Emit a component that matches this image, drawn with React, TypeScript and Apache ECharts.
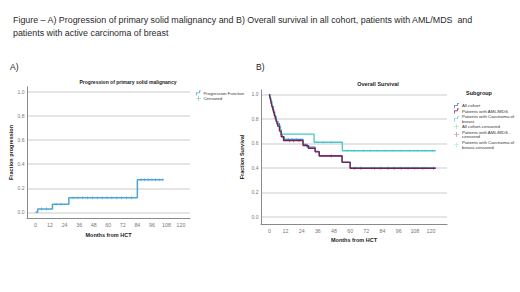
import React, { useEffect, useRef } from 'react';
import * as echarts from 'echarts';

// Panel A: cumulative incidence of progression
const progTimes = [0, 1.8, 14, 27.5, 84, 105.5];
const progValues = [0, 0.028, 0.067, 0.122, 0.27, 0.27];
const progCensorTimes = [5, 9, 17, 21, 31, 35, 39, 43, 47, 51, 55, 59, 63, 67, 71, 75, 79, 87, 90, 93, 96, 99, 102, 105];

// Panel B: overall survival
const allTimes = [0, 0.4, 0.8, 1.2, 1.6, 2.0, 2.5, 3.0, 3.5, 4.0, 4.6, 5.2, 6.0, 7.5, 8.5, 9.5, 11, 25, 28, 34, 37, 54, 60, 123.5];
const allValues = [1, 0.98, 0.96, 0.94, 0.92, 0.9, 0.88, 0.86, 0.84, 0.82, 0.8, 0.78, 0.76, 0.715, 0.676, 0.655, 0.632, 0.592, 0.57, 0.535, 0.5, 0.448, 0.4, 0.4];
const amlTimes = [0, 0.5, 1.0, 1.5, 2.0, 2.6, 3.2, 3.8, 4.4, 5.0, 5.6, 6.2, 7.5, 8.8, 10.5, 25, 29, 34, 37, 54, 60, 123.5];
const amlValues = [1, 0.975, 0.95, 0.925, 0.9, 0.875, 0.85, 0.825, 0.8, 0.78, 0.76, 0.74, 0.7, 0.654, 0.622, 0.582, 0.56, 0.53, 0.497, 0.446, 0.397, 0.397];
const breastTimes = [0, 0.6, 1.2, 2.0, 3.0, 4.0, 5.2, 6.5, 8.3, 33.2, 54.2, 123.5];
const breastValues = [1, 0.97, 0.94, 0.9, 0.86, 0.82, 0.78, 0.74, 0.676, 0.609, 0.54, 0.54];
const allCensorTimes = [14, 17, 20, 30, 45, 64, 68, 76, 82, 88, 92, 97, 101, 106, 110, 116, 122];
const amlCensorTimes = [15, 18, 22, 46, 63, 68, 78, 83, 88, 93, 98, 103, 108, 114, 122];
const breastCensorTimes = [40, 46, 58, 63, 70, 75, 80, 86, 92, 98, 104, 110, 116, 121];

// Tick labels
const monthTicks = [0, 12, 24, 36, 48, 60, 72, 84, 96, 108, 120];
const fractionTicks = [0, 0.2, 0.4, 0.6, 0.8, 1.0];

const FONT = '"Liberation Sans", Arial, sans-serif';

function stepAt(times: number[], values: number[], t: number) {
  let v = values[0];
  for (let i = 0; i < times.length; i++) if (times[i] <= t) v = values[i];
  return v;
}
const zip = (a: number[], b: number[]) => a.map((x, i) => [x, b[i]]);
const censorPts = (ct: number[], times: number[], values: number[]) => ct.map((t) => [t, stepAt(times, values, t)]);

const legendNames: Record<string, string> = {
  'Patients with Carcinoma of breast': 'Patients with Carcinoma of\nbreast',
  'Patients with AML/MDS - censored': 'Patients with AML/MDS -\ncensored',
  'Patients with Carcinoma of breast-censored': 'Patients with Carcinoma of\nbreast-censored',
};

const STEP_ICON = 'path://M0,10 L0,4 L6,4 L6,0 L10,0 L10,1.4 L7.4,1.4 L7.4,5.4 L1.4,5.4 L1.4,10 Z';
const PLUS_ICON = 'path://M4.4,0 H5.6 V4.4 H10 V5.6 H5.6 V10 H4.4 V5.6 H0 V4.4 H4.4 Z';

function xAxisCfg(gridIndex: number, min: number, max: number, nameGap: number) {
  return {
    gridIndex,
    type: 'value',
    min,
    max,
    name: 'Months from HCT',
    nameLocation: 'middle',
    nameGap,
    nameMoveOverlap: false,
    nameTextStyle: { fontSize: 5.5, fontWeight: 'bold', color: '#222', fontFamily: FONT },
    axisLine: { show: true, onZero: false, lineStyle: { color: '#8a8a8a', width: 1 } },
    axisTick: { show: false, customValues: monthTicks },
    axisLabel: { customValues: monthTicks, fontSize: 5.3, color: '#777', margin: 4, fontFamily: FONT },
    splitLine: { show: false },
  };
}
function yAxisCfg(gridIndex: number, min: number, max: number, name: string, nameGap: number) {
  return {
    gridIndex,
    type: 'value',
    min,
    max,
    name,
    nameLocation: 'middle',
    nameGap,
    nameMoveOverlap: false,
    nameTextStyle: { fontSize: 5.5, fontWeight: 'bold', color: '#222', fontFamily: FONT },
    axisLine: { show: true, onZero: false, lineStyle: { color: '#8a8a8a', width: 1 } },
    axisTick: { show: false, customValues: fractionTicks },
    axisLabel: { customValues: fractionTicks, fontSize: 5, color: '#777', margin: 2.5, fontFamily: FONT, formatter: (v: number) => v.toFixed(1) },
    splitLine: { show: true, lineStyle: { color: '#dcdcdc', width: 1.5 } },
  };
}

export default function App() {
  const ref = useRef<HTMLDivElement>(null);
  useEffect(() => {
    if (!ref.current) return;
    const chart = echarts.init(ref.current, null, { renderer: 'svg' });
    const progColor = '#4aa6d6';
    const allColor = '#4178b8';
    const amlColor = '#7a1f4f';
    const breastColor = '#47c8c8';
    chart.setOption({
      animation: false,
      backgroundColor: '#fff',
      textStyle: { fontFamily: FONT },
      grid: [
        { left: 27, top: 86.7, width: 163, height: 131.6 },
        { left: 261, top: 90, width: 186, height: 134 },
      ],
      xAxis: [xAxisCfg(0, -7, 127.4, 14), xAxisCfg(1, -6.2, 131.9, 13)],
      yAxis: [
        yAxisCfg(0, -0.05, 1.045, 'Fraction progression', 13),
        yAxisCfg(1, -0.057, 1.035, 'Fraction Survival', 16),
      ],
      legend: [
        {
          orient: 'vertical',
          left: 191,
          top: 85.6,
          itemWidth: 6,
          itemHeight: 5,
          itemGap: 0.4,
          textStyle: { fontSize: 4.3, color: '#333', fontFamily: FONT, padding: [0, 0, 0, -3] },
          data: [
            { name: 'Progression Function', icon: STEP_ICON },
            { name: 'Censored', icon: PLUS_ICON },
          ],
        },
        {
          orient: 'vertical',
          left: 449,
          top: 98.2,
          itemWidth: 7,
          itemHeight: 5,
          itemGap: 0.4,
          textStyle: { fontSize: 4.4, lineHeight: 4.9, color: '#333', fontFamily: FONT, padding: [0, 0, 0, -3] },
          formatter: (n: string) => legendNames[n] || n,
          data: [
            { name: 'All cohort', icon: STEP_ICON },
            { name: 'Patients with AML/MDS', icon: STEP_ICON },
            { name: 'Patients with Carcinoma of breast', icon: STEP_ICON },
            { name: 'All cohort-censored', icon: PLUS_ICON },
            { name: 'Patients with AML/MDS - censored', icon: PLUS_ICON },
            { name: 'Patients with Carcinoma of breast-censored', icon: PLUS_ICON },
          ],
        },
      ],
      graphic: [
        {
          type: 'text', left: 13, top: 13,
          style: {
            text: 'Figure – A) Progression of primary solid malignancy and B) Overall survival in all cohort, patients with AML/MDS  and\npatients with active carcinoma of breast',
            fontSize: 8.9, lineHeight: 13, fill: '#2a2a2a', fontFamily: FONT,
          },
        },
        { type: 'text', left: 10, top: 62, style: { text: 'A)', fontSize: 8.5, fill: '#222', fontFamily: FONT } },
        { type: 'text', left: 256, top: 62, style: { text: 'B)', fontSize: 8.5, fill: '#222', fontFamily: FONT } },
        { type: 'text', x: 128, y: 82, style: { text: 'Progression of primary solid malignancy', fontSize: 5, fontWeight: 'bold', fill: '#222', align: 'center', verticalAlign: 'middle', fontFamily: FONT } },
        { type: 'text', x: 378, y: 84, style: { text: 'Overall Survival', fontSize: 5.5, fontWeight: 'bold', fill: '#222', align: 'center', verticalAlign: 'middle', fontFamily: FONT } },
        { type: 'text', x: 479, y: 93, style: { text: 'Subgroup', fontSize: 5.5, fontWeight: 'bold', fill: '#222', align: 'center', verticalAlign: 'middle', fontFamily: FONT } },
      ],
      series: [
        {
          name: 'Progression Function', type: 'line', xAxisIndex: 0, yAxisIndex: 0, step: 'end', symbol: 'none',
          data: zip(progTimes, progValues), itemStyle: { color: progColor }, lineStyle: { color: progColor, width: 1.5 },
        },
        {
          name: 'Censored', type: 'scatter', xAxisIndex: 0, yAxisIndex: 0, symbol: 'rect', symbolSize: [0.8, 3],
          data: censorPts(progCensorTimes, progTimes, progValues), itemStyle: { color: '#5aa8d0' },
        },
        {
          name: 'All cohort', type: 'line', xAxisIndex: 1, yAxisIndex: 1, step: 'end', symbol: 'none',
          data: zip(allTimes, allValues), itemStyle: { color: allColor }, lineStyle: { color: allColor, width: 1.3 },
        },
        {
          name: 'Patients with Carcinoma of breast', type: 'line', xAxisIndex: 1, yAxisIndex: 1, step: 'end', symbol: 'none',
          data: zip(breastTimes, breastValues), itemStyle: { color: breastColor }, lineStyle: { color: breastColor, width: 1.3 },
        },
        {
          name: 'Patients with AML/MDS', type: 'line', xAxisIndex: 1, yAxisIndex: 1, step: 'end', symbol: 'none',
          data: zip(amlTimes, amlValues), itemStyle: { color: amlColor }, lineStyle: { color: amlColor, width: 1.3 },
        },
        {
          name: 'All cohort-censored', type: 'scatter', xAxisIndex: 1, yAxisIndex: 1, symbol: 'rect', symbolSize: [0.8, 3],
          data: censorPts(allCensorTimes, allTimes, allValues), itemStyle: { color: '#7fc8b0' },
        },
        {
          name: 'Patients with AML/MDS - censored', type: 'scatter', xAxisIndex: 1, yAxisIndex: 1, symbol: 'rect', symbolSize: [0.8, 3],
          data: censorPts(amlCensorTimes, amlTimes, amlValues), itemStyle: { color: '#9a5a7a' },
        },
        {
          name: 'Patients with Carcinoma of breast-censored', type: 'scatter', xAxisIndex: 1, yAxisIndex: 1, symbol: 'rect', symbolSize: [0.8, 3],
          data: censorPts(breastCensorTimes, breastTimes, breastValues), itemStyle: { color: '#8cdde6' },
        },
      ],
    });
    return () => chart.dispose();
  }, []);
  return (
    <div
      ref={ref}
      style={{ position: 'fixed', left: 0, top: 0, width: 520, height: 292, background: '#fff' }}
    />
  );
}
